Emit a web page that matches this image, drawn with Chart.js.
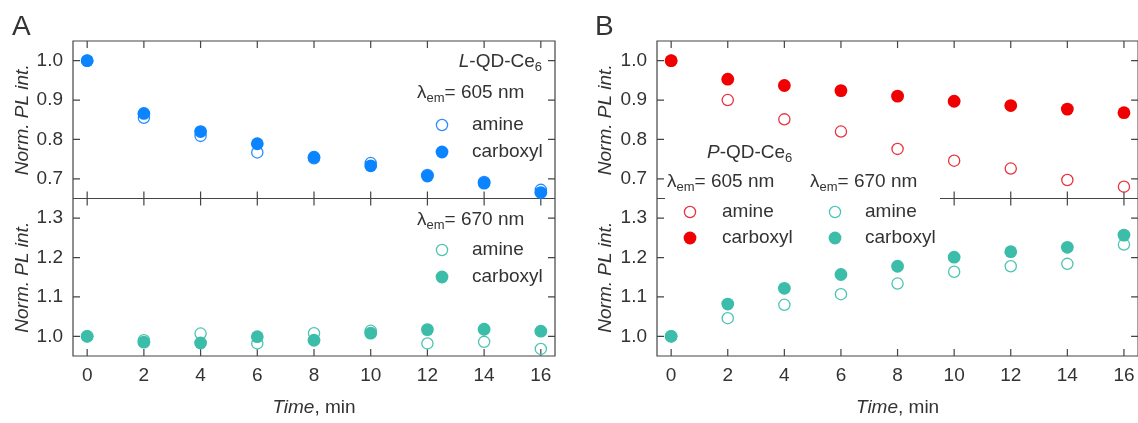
<!DOCTYPE html>
<html>
<head>
<meta charset="utf-8">
<script src="https://cdn.jsdelivr.net/npm/chart.js@4.4.0/dist/chart.umd.min.js"></script>
<style>
html, body { margin: 0; padding: 0; background: #fff; overflow: hidden; width: 1138px; height: 423px; }
canvas { position: absolute; top: 0; }
#chartA { left: 0; }
#chartB { left: 569px; }
</style>
</head>
<body>
<canvas id="chartA" width="569" height="423"></canvas>
<canvas id="chartB" width="576" height="423"></canvas>
<script>
// time axis (min) and tick labels
const times = [0, 2, 4, 6, 8, 10, 12, 14, 16];
const timeTicks = [0, 2, 4, 6, 8, 10, 12, 14, 16];
const upperTicks = [0.7, 0.8, 0.9, 1.0];
const lowerTicks = [1.0, 1.1, 1.2, 1.3];

// A: L-QD-Ce6
const lAmine605 = [1.0, 0.855, 0.809, 0.767, 0.752, 0.740, 0.710, 0.692, 0.672];
const lCarboxyl605 = [1.0, 0.866, 0.820, 0.789, 0.755, 0.733, 0.707, 0.689, 0.665];
const lAmine670 = [1.0, 0.990, 1.007, 0.982, 1.008, 1.014, 0.982, 0.986, 0.968];
const lCarboxyl670 = [1.0, 0.985, 0.983, 0.999, 0.990, 1.008, 1.017, 1.018, 1.013];

// B: P-QD-Ce6
const pAmine605 = [1.0, 0.900, 0.851, 0.820, 0.776, 0.746, 0.726, 0.697, 0.680];
const pCarboxyl605 = [1.0, 0.953, 0.937, 0.924, 0.910, 0.897, 0.886, 0.877, 0.868];
const pAmine670 = [1.0, 1.046, 1.080, 1.107, 1.134, 1.164, 1.178, 1.184, 1.233];
const pCarboxyl670 = [1.0, 1.082, 1.122, 1.157, 1.178, 1.201, 1.215, 1.226, 1.257];

const family = "'Liberation Sans', Arial, sans-serif";
const textColor = '#333';
const frameColor = '#444';
const blue = '#0a84ff';
const blueRing = '#2a8cff';
const teal = '#3cbdaa';
const tealRing = '#4cc4b2';
const red = '#f00000';
const redRing = '#e8323c';

Chart.defaults.font.family = family;
Chart.defaults.color = textColor;

function toPoints(values) {
    return times.map((t, i) => ({x: t, y: values[i]}));
}

function openSet(values, color, axis) {
    return {
        data: toPoints(values), yAxisID: axis,
        pointRadius: 5.6, pointBorderWidth: 1.3,
        pointBorderColor: color, pointBackgroundColor: 'rgba(255,255,255,0)',
        showLine: false, order: 2, clip: false,
    };
}

function filledSet(values, color, axis) {
    return {
        data: toPoints(values), yAxisID: axis,
        pointRadius: 6.4, pointBorderWidth: 0,
        pointBorderColor: color, pointBackgroundColor: color,
        showLine: false, order: 1, clip: false,
    };
}

function yScale(min, max, ticks, weight, titlePad) {
    return {
        type: 'linear', position: 'left', stack: 'panel', stackWeight: 1, weight: weight,
        min: min, max: max,
        afterBuildTicks: s => { s.ticks = ticks.map(v => ({value: v})); },
        afterFit: s => { s.width = s.chart.options.leftWidth; },
        grid: {display: false, drawTicks: false}, border: {display: false},
        ticks: {padding: 10, font: {size: 19}, color: textColor, callback: v => v.toFixed(1)},
        title: {display: true, text: 'Norm. PL int.', color: textColor,
            font: {size: 19, style: 'italic'}, padding: {top: titlePad, bottom: 0}},
    };
}

function drawRuns(ctx, runs, x, y, align) {
    const fontFor = r => (r.italic ? 'italic ' : '') + (r.sub ? 13 : (r.size || 19)) + 'px ' + family;
    let w = 0;
    runs.forEach(r => { ctx.font = fontFor(r); w += ctx.measureText(r.t).width; });
    let cx = align === 'right' ? x - w : (align === 'center' ? x - w / 2 : x);
    ctx.textAlign = 'left';
    ctx.textBaseline = 'middle';
    ctx.fillStyle = textColor;
    runs.forEach(r => {
        ctx.font = fontFor(r);
        ctx.fillText(r.t, cx, y + (r.sub ? 5 : 0));
        cx += ctx.measureText(r.t).width;
    });
}

function drawMarker(ctx, m) {
    ctx.beginPath();
    if (m.open) {
        ctx.arc(m.x, m.y, 5.6, 0, Math.PI * 2);
        ctx.lineWidth = 1.3;
        ctx.strokeStyle = m.color;
        ctx.stroke();
    } else {
        ctx.arc(m.x, m.y, 6.4, 0, Math.PI * 2);
        ctx.fillStyle = m.color;
        ctx.fill();
    }
}

const decor = {
    id: 'decor',
    beforeDatasetsDraw(chart, args, o) {
        const {ctx, chartArea: a} = chart;
        const {x, yUp, yLow} = chart.scales;
        const mid = yUp.bottom;
        const T = 7;
        ctx.save();
        ctx.strokeStyle = frameColor;
        ctx.lineWidth = 1.2;
        ctx.beginPath();
        ctx.rect(a.left, a.top, a.right - a.left, a.bottom - a.top);
        ctx.moveTo(a.left, mid);
        ctx.lineTo(a.right, mid);
        timeTicks.forEach(t => {
            const px = x.getPixelForValue(t);
            ctx.moveTo(px, a.top); ctx.lineTo(px, a.top + T);
            ctx.moveTo(px, mid - T); ctx.lineTo(px, mid + T);
            ctx.moveTo(px, a.bottom); ctx.lineTo(px, a.bottom - T);
        });
        [[yUp, upperTicks], [yLow, lowerTicks]].forEach(([s, ts]) => ts.forEach(v => {
            const py = s.getPixelForValue(v);
            ctx.moveTo(a.left, py); ctx.lineTo(a.left + T, py);
            ctx.moveTo(a.right, py); ctx.lineTo(a.right - T, py);
        }));
        ctx.stroke();
        if (o.mask) {
            ctx.fillStyle = '#fff';
            ctx.fillRect(o.mask[0], o.mask[1], o.mask[2], o.mask[3]);
        }
        ctx.restore();
    },
    afterDatasetsDraw(chart, args, o) {
        const {ctx} = chart;
        const x = chart.scales.x;
        ctx.save();
        drawRuns(ctx, [{t: o.letter, size: 28}], o.letterX, 27, 'left');
        drawRuns(ctx, [{t: 'Time', italic: true}, {t: ', min'}], (x.left + x.right) / 2, 408, 'center');
        (o.texts || []).forEach(t => drawRuns(ctx, t.runs, t.x, t.y, t.align));
        (o.markers || []).forEach(m => drawMarker(ctx, m));
        ctx.restore();
    },
};

function lambda(nm) {
    return [{t: 'λ'}, {t: 'em', sub: true}, {t: '= ' + nm + ' nm'}];
}

function makeChart(id, datasets, leftWidth, rightPad, titlePad, decorOpts) {
    return new Chart(document.getElementById(id), {
        type: 'scatter',
        data: {datasets: datasets},
        plugins: [decor],
        options: {
            leftWidth: leftWidth,
            responsive: false,
            animation: false,
            events: [],
            layout: {padding: {top: 41, right: rightPad, left: 0, bottom: 0}},
            scales: {
                x: {
                    type: 'linear', position: 'bottom', min: -0.5, max: 16.5,
                    afterBuildTicks: s => { s.ticks = timeTicks.map(v => ({value: v})); },
                    afterFit: s => { s.height = 67; },
                    grid: {display: false, drawTicks: false}, border: {display: false},
                    ticks: {padding: 8, font: {size: 19}, color: textColor, maxRotation: 0, autoSkip: false},
                },
                yLow: yScale(0.95, 1.35, lowerTicks, 1, titlePad),
                yUp: yScale(0.65, 1.05, upperTicks, 2, titlePad),
            },
            plugins: {
                legend: {display: false},
                tooltip: {enabled: false},
                decor: decorOpts,
            },
        },
    });
}

makeChart('chartA', [
    openSet(lAmine605, blueRing, 'yUp'),
    filledSet(lCarboxyl605, blue, 'yUp'),
    openSet(lAmine670, tealRing, 'yLow'),
    filledSet(lCarboxyl670, teal, 'yLow'),
], 73, 14, 11, {
    letter: 'A', letterX: 12,
    texts: [
        {runs: [{t: 'L', italic: true}, {t: '-QD-Ce'}, {t: '6', sub: true}], x: 542, y: 62, align: 'right'},
        {runs: lambda(605), x: 417, y: 93, align: 'left'},
        {runs: [{t: 'amine'}], x: 472, y: 125, align: 'left'},
        {runs: [{t: 'carboxyl'}], x: 472, y: 152, align: 'left'},
        {runs: lambda(670), x: 417, y: 220, align: 'left'},
        {runs: [{t: 'amine'}], x: 472, y: 250, align: 'left'},
        {runs: [{t: 'carboxyl'}], x: 472, y: 277, align: 'left'},
    ],
    markers: [
        {x: 442, y: 125, open: true, color: blueRing},
        {x: 442, y: 152, open: false, color: blue},
        {x: 442, y: 250, open: true, color: tealRing},
        {x: 442, y: 277, open: false, color: teal},
    ],
});

makeChart('chartB', [
    openSet(pAmine605, redRing, 'yUp'),
    filledSet(pCarboxyl605, red, 'yUp'),
    openSet(pAmine670, tealRing, 'yLow'),
    filledSet(pCarboxyl670, teal, 'yLow'),
], 88, 6, 25, {
    letter: 'B', letterX: 26,
    mask: [96, 189, 275, 22],
    texts: [
        {runs: [{t: 'P', italic: true}, {t: '-QD-Ce'}, {t: '6', sub: true}], x: 138, y: 153, align: 'left'},
        {runs: lambda(605), x: 98, y: 182, align: 'left'},
        {runs: lambda(670), x: 241, y: 182, align: 'left'},
        {runs: [{t: 'amine'}], x: 153, y: 212, align: 'left'},
        {runs: [{t: 'carboxyl'}], x: 153, y: 238, align: 'left'},
        {runs: [{t: 'amine'}], x: 296, y: 212, align: 'left'},
        {runs: [{t: 'carboxyl'}], x: 296, y: 238, align: 'left'},
    ],
    markers: [
        {x: 121, y: 212, open: true, color: redRing},
        {x: 121, y: 238, open: false, color: red},
        {x: 266, y: 212, open: true, color: tealRing},
        {x: 266, y: 238, open: false, color: teal},
    ],
});
</script>
</body>
</html>
